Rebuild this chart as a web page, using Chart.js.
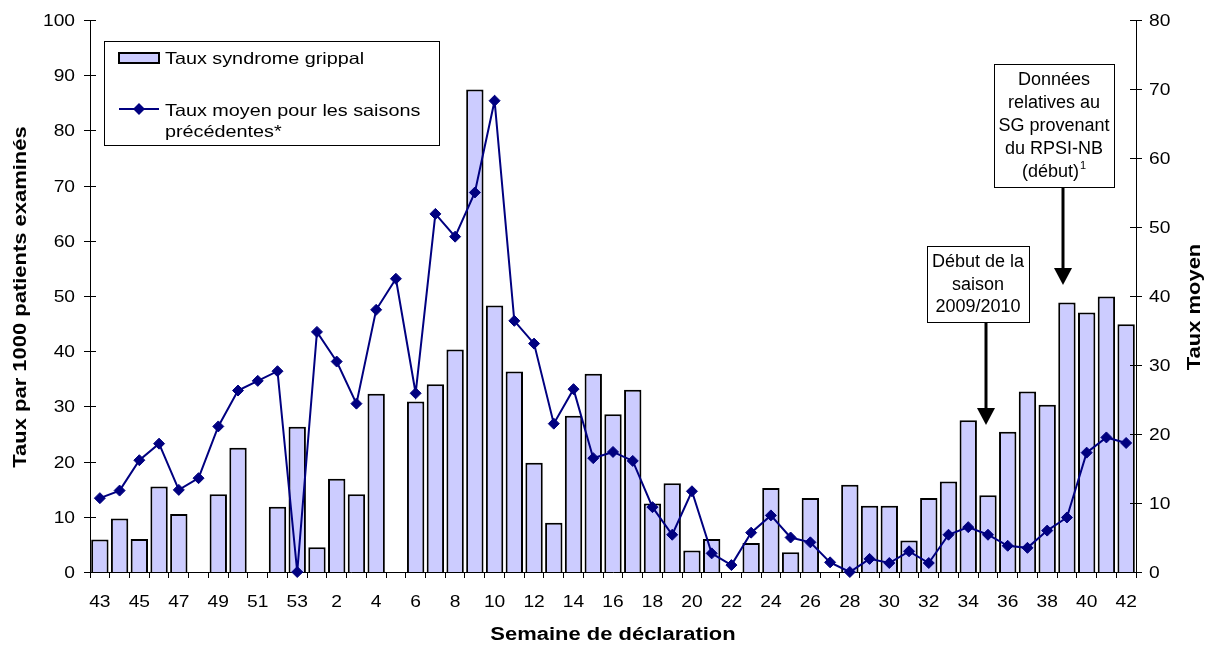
<!DOCTYPE html>
<html lang="fr">
<head>
<meta charset="utf-8">
<title>Taux de syndrome grippal par semaine de déclaration</title>
<script src="https://cdn.jsdelivr.net/npm/chart.js@4/dist/chart.umd.min.js"></script>
<style>
  html, body { margin: 0; padding: 0; background: #ffffff; }
  #chart { display: block; }
</style>
</head>
<body>
<canvas id="chart" width="1208" height="646"></canvas>
<script>
// Semaines de déclaration (43 à 53, puis 1 à 42)
const semaines = ['43','44','45','46','47','48','49','50','51','52','53',
  '1','2','3','4','5','6','7','8','9','10','11','12','13','14','15','16','17','18','19','20',
  '21','22','23','24','25','26','27','28','29','30','31','32','33','34','35','36','37','38','39','40','41','42'];

// Taux de syndrome grippal (par 1000 patients examinés) — axe de gauche
const tauxSyndromeGrippal = [5.9, 9.7, 6.0, 15.5, 10.5, 0, 14.1, 22.5, 0, 11.8, 26.3,
  4.5, 16.9, 14.1, 32.3, 0, 30.9, 34.0, 40.3, 87.4, 48.3, 36.3, 19.8, 8.9, 28.3, 35.9, 28.6, 33.0, 12.4, 16.1, 3.9,
  6.0, 0, 5.25, 15.2, 3.6, 13.4, 0, 15.8, 12.0, 12.0, 5.7, 13.4, 16.4, 27.5, 13.9, 25.4, 32.7, 30.3, 48.8, 47.0, 49.9, 44.9];

// Taux moyen pour les saisons précédentes — axe de droite
const tauxMoyen = [10.7, 11.8, 16.2, 18.6, 11.9, 13.6, 21.1, 26.3, 27.7, 29.1, 0,
  34.8, 30.5, 24.4, 38.0, 42.5, 25.9, 51.9, 48.6, 55.0, 68.3, 36.4, 33.1, 21.5, 26.5, 16.5, 17.4, 16.1, 9.4, 5.4, 11.7,
  2.7, 1.0, 5.7, 8.2, 5.0, 4.3, 1.4, 0, 1.9, 1.3, 3.0, 1.3, 5.4, 6.5, 5.4, 3.8, 3.5, 6.0, 7.9, 17.3, 19.5, 18.7];

// Graduations des axes
const ticksGauche = [0, 10, 20, 30, 40, 50, 60, 70, 80, 90, 100];
const ticksDroite = [0, 10, 20, 30, 40, 50, 60, 70, 80];

// Textes
const titreX = 'Semaine de déclaration';
const titreYGauche = 'Taux par 1000 patients examinés';
const titreYDroite = 'Taux moyen';
const legendeBarres = 'Taux syndrome grippal';
const legendeLigne = ['Taux moyen pour les saisons', 'précédentes*'];
const noteSaison = ['Début de la', 'saison', '2009/2010'];
const noteRPSI = ['Données', 'relatives au', 'SG provenant', 'du RPSI-NB', '(début)'];

const POLICE = '"Liberation Sans", Arial, Helvetica, sans-serif';
const BLEU = '#000080';
const LAVANDE = '#CCCCFF';

// Texte légèrement élargi horizontalement
function texte(ctx, s, x, y, opts) {
  const o = Object.assign({ size: 16, weight: 'normal', sx: 1, align: 'left', baseline: 'alphabetic', rot: 0 }, opts || {});
  ctx.save();
  ctx.translate(x, y);
  if (o.rot) ctx.rotate(o.rot);
  ctx.scale(o.sx, 1);
  ctx.font = o.weight + ' ' + o.size + 'px ' + POLICE;
  ctx.textAlign = o.align;
  ctx.textBaseline = o.baseline;
  ctx.fillStyle = '#000';
  ctx.fillText(s, 0, 0);
  ctx.restore();
}

function losange(ctx, x, y, r) {
  ctx.beginPath();
  ctx.moveTo(x - r, y);
  ctx.lineTo(x, y - r);
  ctx.lineTo(x + r, y);
  ctx.lineTo(x, y + r);
  ctx.closePath();
  ctx.fill();
}

function fleche(ctx, x, y0, y1) {
  ctx.save();
  ctx.strokeStyle = '#000';
  ctx.fillStyle = '#000';
  ctx.lineWidth = 3;
  ctx.beginPath();
  ctx.moveTo(x, y0);
  ctx.lineTo(x, y1 - 17);
  ctx.stroke();
  ctx.beginPath();
  ctx.moveTo(x - 9, y1 - 17);
  ctx.lineTo(x + 9, y1 - 17);
  ctx.lineTo(x, y1);
  ctx.closePath();
  ctx.fill();
  ctx.restore();
}

function boite(ctx, x, y, w, h) {
  ctx.save();
  ctx.fillStyle = '#fff';
  ctx.fillRect(x, y, w, h);
  ctx.strokeStyle = '#000';
  ctx.lineWidth = 1;
  ctx.strokeRect(x + 0.5, y + 0.5, w, h);
  ctx.restore();
}

const habillage = {
  id: 'habillage',
  afterDraw(chart) {
    const ctx = chart.ctx;
    const xs = chart.scales.x, yg = chart.scales.y, yd = chart.scales.y2;
    const area = chart.chartArea;

    // Graduations et libellés de l'axe de gauche
    ctx.save();
    ctx.strokeStyle = '#000';
    ctx.lineWidth = 1;
    ticksGauche.forEach(v => {
      const y = Math.round(yg.getPixelForValue(v)) + 0.5;
      ctx.beginPath();
      ctx.moveTo(area.left - 6, y);
      ctx.lineTo(area.left + 6, y);
      ctx.stroke();
      texte(ctx, String(v), area.left - 15, y + 1, { size: 16, sx: 1.2, align: 'right', baseline: 'middle' });
    });
    // Axe de droite
    ticksDroite.forEach(v => {
      const y = Math.round(yd.getPixelForValue(v)) + 0.5;
      ctx.beginPath();
      ctx.moveTo(area.right - 6, y);
      ctx.lineTo(area.right + 6, y);
      ctx.stroke();
      texte(ctx, String(v), area.right + 13, y + 1, { size: 16, sx: 1.2, align: 'left', baseline: 'middle' });
    });
    ctx.restore();

    // Libellés des semaines (une sur deux)
    semaines.forEach((s, i) => {
      if (i % 2 === 0) {
        texte(ctx, s, xs.getPixelForValue(i), area.bottom + 31, { size: 16, sx: 1.2, align: 'center', baseline: 'middle' });
      }
    });

    // Titres des axes
    texte(ctx, titreX, (area.left + area.right) / 2, area.bottom + 63, { size: 18, weight: 'bold', sx: 1.22, align: 'center', baseline: 'middle' });
    texte(ctx, titreYGauche, 21, 297, { size: 18, weight: 'bold', sx: 1.22, align: 'center', baseline: 'middle', rot: -Math.PI / 2 });
    texte(ctx, titreYDroite, 1195, 307, { size: 18, weight: 'bold', sx: 1.22, align: 'center', baseline: 'middle', rot: -Math.PI / 2 });

    // Légende
    boite(ctx, 104, 41, 335, 104);
    ctx.save();
    ctx.fillStyle = LAVANDE;
    ctx.fillRect(119, 53, 40, 10);
    ctx.strokeStyle = '#000';
    ctx.lineWidth = 2;
    ctx.strokeRect(119, 53, 40, 10);
    ctx.strokeStyle = BLEU;
    ctx.lineWidth = 2;
    ctx.beginPath();
    ctx.moveTo(119, 109);
    ctx.lineTo(159, 109);
    ctx.stroke();
    ctx.fillStyle = BLEU;
    losange(ctx, 139, 109, 6);
    ctx.restore();
    texte(ctx, legendeBarres, 165, 64, { size: 16.5, sx: 1.2 });
    texte(ctx, legendeLigne[0], 165, 116, { size: 16.5, sx: 1.2 });
    texte(ctx, legendeLigne[1], 165, 137, { size: 16.5, sx: 1.2 });

    // Annotation : début de la saison
    boite(ctx, 927, 246, 102, 76);
    noteSaison.forEach((l, i) => {
      texte(ctx, l, 978, 267 + i * 22.5, { size: 18, align: 'center' });
    });
    fleche(ctx, 986, 323, 425);

    // Annotation : données du RPSI-NB
    boite(ctx, 994, 64, 120, 123);
    noteRPSI.forEach((l, i) => {
      if (i < noteRPSI.length - 1) {
        texte(ctx, l, 1054, 85 + i * 23, { size: 18, align: 'center' });
      }
    });
    ctx.save();
    ctx.font = '18px ' + POLICE;
    const dernier = noteRPSI[noteRPSI.length - 1];
    const w1 = ctx.measureText(dernier).width;
    ctx.font = '11px ' + POLICE;
    const w2 = ctx.measureText('1').width;
    ctx.restore();
    const x0 = 1054 - (w1 + w2 + 1) / 2;
    texte(ctx, dernier, x0, 177, { size: 18 });
    texte(ctx, '1', x0 + w1 + 1, 169, { size: 11 });
    fleche(ctx, 1063, 188, 285);
  }
};

new Chart(document.getElementById('chart'), {
  type: 'bar',
  data: {
    labels: semaines,
    datasets: [
      {
        type: 'line',
        label: legendeLigne.join(' '),
        data: tauxMoyen,
        yAxisID: 'y2',
        borderColor: BLEU,
        backgroundColor: BLEU,
        borderWidth: 2,
        pointStyle: 'rectRot',
        pointRadius: 5.5,
        pointBorderWidth: 1,
        pointBackgroundColor: BLEU,
        pointBorderColor: BLEU,
        tension: 0,
        order: 0,
        clip: false
      },
      {
        type: 'bar',
        label: legendeBarres,
        data: tauxSyndromeGrippal,
        yAxisID: 'y',
        backgroundColor: LAVANDE,
        borderColor: '#000',
        borderWidth: 2,
        categoryPercentage: 1,
        barPercentage: 0.88,
        order: 1
      }
    ]
  },
  options: {
    responsive: false,
    animation: false,
    devicePixelRatio: 1,
    layout: { padding: { top: 20, left: 0, right: 0, bottom: 0 } },
    plugins: { legend: { display: false }, tooltip: { enabled: false } },
    scales: {
      x: {
        offset: true,
        grid: { display: true, drawOnChartArea: false, drawTicks: true, tickLength: 6, color: '#000', offset: true },
        border: { display: true, color: '#000', width: 1 },
        ticks: { display: false, autoSkip: false },
        afterFit(s) { s.height = 74; }
      },
      y: {
        position: 'left',
        min: 0, max: 100,
        ticks: { display: false, stepSize: 10 },
        grid: { display: false },
        border: { display: true, color: '#000', width: 1 },
        afterFit(s) { s.width = 90; }
      },
      y2: {
        position: 'right',
        min: 0, max: 80,
        ticks: { display: false, stepSize: 10 },
        grid: { display: false },
        border: { display: true, color: '#000', width: 1 },
        afterFit(s) { s.width = 72; }
      }
    }
  },
  plugins: [habillage]
});
</script>
</body>
</html>
